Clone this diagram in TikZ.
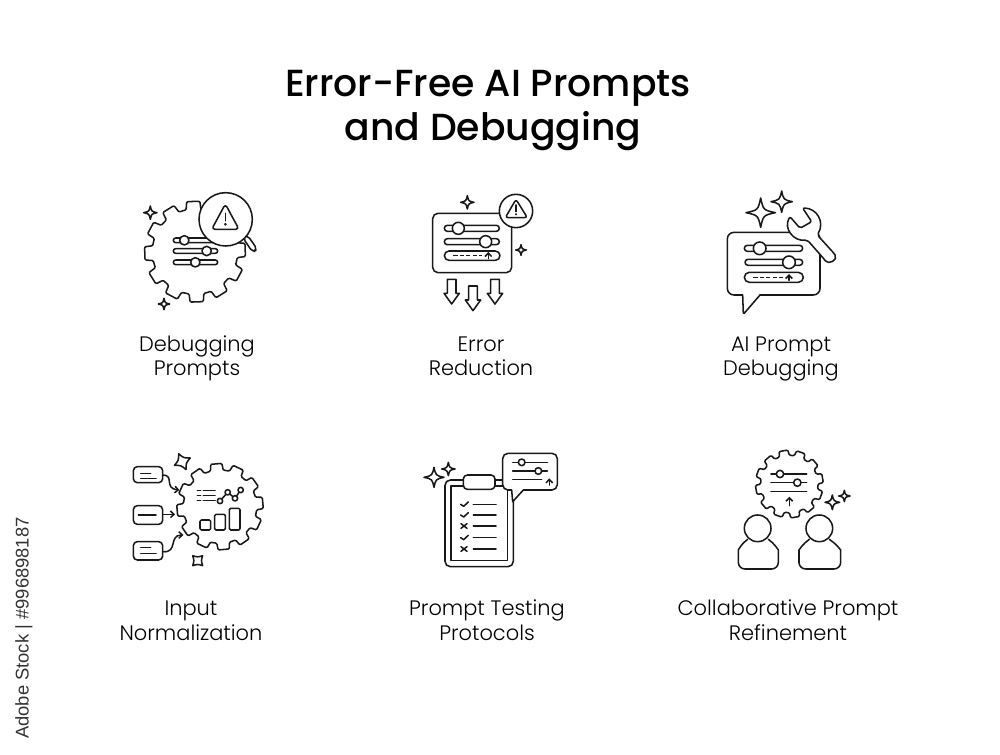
\documentclass[tikz,border=0pt]{standalone}
\usepackage{fontspec}
\setmainfont{Poppins}
\newfontfamily\ptitle{Poppins Medium}
\newfontfamily\plabel{Poppins Light}
\newfontfamily\pside{Liberation Sans}
\usetikzlibrary{arrows.meta}
\tikzset{
  ic/.style={draw=black!90,line width=1.15pt,line join=round,line cap=round},
  wf/.style={ic,fill=white},
  z/.style 2 args={shift={(#1,#2)},x=0.25pt,y=-0.25pt},
  titlet/.style={font=\ptitle\fontsize{28.3}{33}\selectfont,align=center,text=black,inner sep=0},
  lab/.style={font=\plabel\fontsize{15.7}{18.6}\selectfont,align=center,text=black,inner sep=0},
  thinarrow/.style={ic,-{Straight Barb[length=2.6pt,width=5pt]}},
  dashline/.style={ic,dash pattern=on 3.2pt off 1.6pt,line cap=butt},
}
\def\fc{0.18}
\newcommand\fstar[3]{\draw[ic] ({#1},{#2-#3}) .. controls ({#1+\fc*#3},{#2-\fc*#3}) .. ({#1+#3},{#2}) .. controls ({#1+\fc*#3},{#2+\fc*#3}) .. ({#1},{#2+#3}) .. controls ({#1-\fc*#3},{#2+\fc*#3}) .. ({#1-#3},{#2}) .. controls ({#1-\fc*#3},{#2-\fc*#3}) .. cycle;}
\newcommand\gearshape[5]{\begin{scope}[shift={(#1,#2)}]
  \draw[wf,rounded corners=0.9pt] ({#5-10}:#4) \foreach \ga in {0,30,...,330} { -- ({#5+\ga-10}:#4) -- ({#5+\ga-7.5}:#3) -- ({#5+\ga+7.5}:#3) -- ({#5+\ga+10}:#4) -- ({#5+\ga+15}:#4) } -- cycle;
\end{scope}}
\newcommand\slbar[4]{\draw[ic,rounded corners=#4*0.125pt] (#1,{#3-#4/2}) rectangle (#2,{#3+#4/2});}
\newcommand\knob[3]{\draw[wf] (#1,#2) circle (#3);}
\newcommand\dnarrow[2]{\draw[ic] ({#1-13},#2) -- ({#1+13},#2) -- ({#1+13},{#2+42}) -- ({#1+23},{#2+42}) -- ({#1},{#2+74}) -- ({#1-23},{#2+42}) -- ({#1-13},{#2+42}) -- cycle;}
\begin{document}
\begin{tikzpicture}[x=0.75pt,y=-0.75pt]
\useasboundingbox (0,0) rectangle (1000,755);
\fill[white] (0,0) rectangle (1000,755);
\node[titlet] (title) at (488,111) {Error-Free AI Prompts\\\hspace*{7.5pt}and Debugging};
\node[lab] (l1) at (197,358.6) {\strut Debugging\\\strut Prompts};
\node[lab] (l2) at (481,358.6) {\strut Error\\\strut Reduction};
\node[lab] (l3) at (781,358.6) {\strut AI Prompt\\\strut Debugging};
\node[lab] (l4) at (191,623) {\strut Input\\\strut Normalization};
\node[lab] (l5) at (487,623) {\strut Prompt Testing\\\strut Protocols};
\node[lab] (l6) at (788,623) {\strut Collaborative Prompt\\\strut Refinement};
\node[rotate=90,anchor=east,inner sep=0,font=\pside\fontsize{13.8}{15}\selectfont,text=black!80] (side) at (24,517) {Adobe Stock | \#996898187};

% Icon 1
\begin{scope}[z={120}{180}]
  \gearshape{225}{215}{152}{128}{28}
  \slbar{160}{290}{181}{14}\slbar{160}{293}{213}{14}\slbar{160}{293}{247}{14}
  \knob{193}{181}{14}\knob{260}{213}{14}\knob{226}{247}{14}
  \draw[wf,rounded corners=3pt] (368,172) -- (398,217) -- (412,208) -- (382,165) -- cycle;
  \draw[wf] (317,118) circle (80);
  \draw[ic,rounded corners=2.5pt] (316,72) -- (357,148) -- (275,148) -- cycle;
  \draw[ic] (316,100) -- (316,122);
  \fill[black!88] (316,133) circle (4.5);
  \fstar{91}{98}{20}\fstar{132}{372}{17}
\end{scope}

% Icon 2
\begin{scope}[z={400}{180}]
  \draw[ic,rounded corners=4pt] (98,100) rectangle (335,278);
  \draw[wf] (348,93) circle (50);
  \draw[ic,rounded corners=2pt] (348,58) -- (382,113) -- (316,113) -- cycle;
  \draw[ic] (348,75) -- (348,95);
  \fill[black!88] (348,103) circle (3.5);
  \slbar{133}{298}{145}{18}\slbar{133}{298}{185}{18}\slbar{133}{300}{227}{28}
  \knob{175}{145}{18}\knob{257}{185}{18}
  \draw[dashline] (160,227) -- (247,227);
  \draw[thinarrow] (265,236) -- (265,216);
  \fstar{202}{67}{20}\fstar{363}{210}{16}
  \dnarrow{155}{298}\dnarrow{219}{318}\dnarrow{285}{298}
\end{scope}

% Icon 3
\begin{scope}[z={710}{180}]
  \draw[ic,rounded corners=5pt] (150,345) -- (330,345) -- (330,157) -- (52,157) -- (52,345) -- (98,345);
  \draw[ic,rounded corners=1pt] (150,345) -- (100,403) -- (98,345);
  \draw[wf,rounded corners=1.5pt] (278,84) .. controls (320,85) and (345,125) .. (322,165) -- (372,220) .. controls (385,240) and (355,255) .. (343,238) -- (292,180) .. controls (250,185) and (220,145) .. (240,110) -- (270,145) -- (305,125) -- cycle;
  \slbar{103}{278}{205}{18}\slbar{105}{278}{247}{18}\slbar{103}{280}{292}{30}
  \knob{149}{205}{19}\knob{237}{247}{19}
  \draw[dashline] (130,292) -- (222,292);
  \draw[thinarrow] (237,301) -- (237,282);
  \fstar{152}{98}{44}\fstar{215}{65}{32}
\end{scope}

% Icon 4
\begin{scope}[z={120}{445}]
  \gearshape{300}{185}{130}{110}{25}
  \draw[ic,rounded corners=3pt] (40,65) rectangle (128,113);
  \draw[ic,rounded corners=3pt] (40,182) rectangle (128,238);
  \draw[ic,rounded corners=3pt] (40,290) rectangle (128,345);
  \draw[ic] (62,85) -- (92,85) (62,100) -- (108,100) (55,210) -- (108,210) (62,308) -- (92,308) (62,325) -- (108,325);
  \draw[thinarrow] (128,90) .. controls (165,90) and (130,130) .. (178,135);
  \draw[thinarrow] (128,208) -- (165,208);
  \draw[thinarrow] (128,320) .. controls (175,325) and (145,270) .. (190,270);
  \draw[ic] (232,137) -- (242,137) (250,137) -- (285,137) (232,152) -- (242,152) (250,152) -- (285,152) (232,167) -- (242,167) (250,167) -- (285,167);
  \draw[ic] (300,168) -- (323,142) -- (345,160) -- (362,135);
  \foreach \cx/\cy in {300/168,323/142,345/160,362/135} {\draw[wf] (\cx,\cy) circle (8);}
  \draw[ic,rounded corners=1pt] (240,225) rectangle (272,255) (284,208) rectangle (316,255) (328,190) rectangle (360,255);
  \begin{scope}[rotate around={25:(187,50)}]\def\fc{0.32}\fstar{187}{50}{26}\end{scope}
  \begin{scope}[rotate around={45:(233,347)}]\def\fc{0.35}\fstar{233}{347}{21}\end{scope}
\end{scope}

% Icon 5
\begin{scope}[z={410}{445}]
  \draw[ic,rounded corners=4pt] (105,105) rectangle (310,365);
  \draw[ic] (123,123) rectangle (293,347);
  \draw[wf,rounded corners=3pt] (160,90) rectangle (255,133);
  \draw[wf,rounded corners=4pt] (305,135) -- (278,135) -- (278,25) -- (442,25) -- (442,135) -- (340,135);
  \fill[white] (340,135) -- (308,170) -- (305,135) -- cycle;
  \draw[ic] (340,135) -- (308,170) -- (305,135);
  \draw[ic] (308,52) -- (412,52) (308,78) -- (412,78) (308,104) -- (395,104);
  \knob{335}{52}{10}\knob{385}{78}{10}
  \draw[thinarrow] (418,120) -- (418,100);
  \foreach \ly in {178,210,243,278,312} {\draw[ic] (190,\ly) -- (258,\ly);}
  \foreach \ly in {178,210,278} {\draw[ic] (152,\ly) -- (161,{\ly+6}) -- (175,{\ly-7});}
  \foreach \ly in {243,312} {\draw[ic] (153,{\ly-7}) -- (171,{\ly+7}) (171,{\ly-7}) -- (153,{\ly+7});}
  \fstar{72}{97}{30}\fstar{115}{72}{20}
\end{scope}

% Icon 6
\begin{scope}[z={715}{445}]
  \gearshape{223}{117}{102}{86}{20}
  \draw[ic] (168,87) -- (275,87) (168,113) -- (275,113) (168,140) -- (275,140);
  \knob{195}{87}{11}\knob{247}{113}{11}
  \draw[thinarrow] (223,182) -- (223,155);
  \fstar{352}{172}{22}\fstar{388}{153}{17}
  \draw[ic] (128,250) circle (40);
  \draw[ic,rounded corners=5pt] (98,283) .. controls (80,295) and (70,315) .. (70,335) -- (70,372) -- (190,372) -- (190,335) .. controls (190,315) and (178,295) .. (160,283);
  \draw[ic] (313,250) circle (40);
  \draw[ic,rounded corners=5pt] (283,283) .. controls (265,295) and (252,315) .. (252,335) -- (252,372) -- (377,372) -- (377,335) .. controls (377,315) and (362,295) .. (343,283);
\end{scope}
\end{tikzpicture}
\end{document}
